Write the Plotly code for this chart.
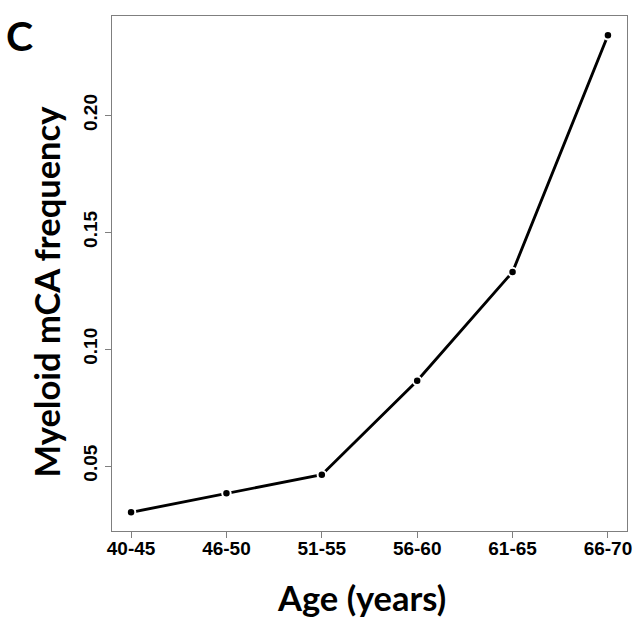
import plotly.graph_objects as go

age_groups = ["40-45", "46-50", "51-55", "56-60", "61-65", "66-70"]
mca_frequency = [0.0302, 0.0383, 0.0463, 0.0865, 0.1330, 0.2343]
y_ticks = [0.05, 0.10, 0.15, 0.20]
y_tick_labels = ["0.05", "0.10", "0.15", "0.20"]

x_idx = list(range(len(age_groups)))

fig = go.Figure()
fig.add_trace(go.Scatter(
    x=x_idx, y=mca_frequency, mode="lines+markers",
    line=dict(color="black", width=2.9),
    marker=dict(color="black", size=8.5, line=dict(color="white", width=2)),
    showlegend=False, hoverinfo="skip"))

tick_font = dict(family="Liberation Sans, Arial, sans-serif", size=19, color="black", weight="bold")
title_font = dict(family="Lato, Open Sans, sans-serif", size=34.5, color="black", weight="bold")

# plot box at x 112-627, y 16-531 of the 641x626 page
fig.update_layout(
    width=641, height=626,
    margin=dict(l=112, r=14, t=16, b=95),
    paper_bgcolor="white", plot_bgcolor="white",
    xaxis=dict(range=[-0.2, 5.2], tickmode="array", tickvals=x_idx, ticktext=age_groups,
               showgrid=False, zeroline=False, showline=True, linecolor="#7f7f7f", linewidth=1.2,
               mirror=True, ticks="outside", ticklen=6, tickcolor="#7f7f7f",
               tickfont=tick_font, automargin=False, ticklabelstandoff=-6),
    yaxis=dict(range=[0.0222, 0.2425], tickmode="array", tickvals=y_ticks, ticktext=y_tick_labels,
               showgrid=False, zeroline=False, showline=True, linecolor="#7f7f7f", linewidth=1.2,
               mirror=True, ticks="outside", ticklen=6, tickcolor="#7f7f7f",
               tickangle=-90, tickfont=tick_font, automargin=False),
    annotations=[
        dict(text="Myeloid mCA frequency", textangle=-90, xref="paper", yref="paper",
             x=0, y=0.5, xshift=-66, yshift=-18, xanchor="center", yanchor="middle", showarrow=False,
             font=title_font),
        dict(text="Age (years)", xref="paper", yref="paper", x=0.5, y=0, xshift=-8, yshift=-66,
             xanchor="center", yanchor="middle", showarrow=False, font=title_font),
        dict(text="C", xref="paper", yref="paper", x=0, y=1, xshift=-93, yshift=-19,
             xanchor="center", yanchor="middle", showarrow=False,
             font=dict(family="Lato, Open Sans, sans-serif", size=41, color="black", weight="bold")),
    ],
)

fig.write_html("out.html", config={"displayModeBar": False},
               post_script="document.body.style.margin='0';")
